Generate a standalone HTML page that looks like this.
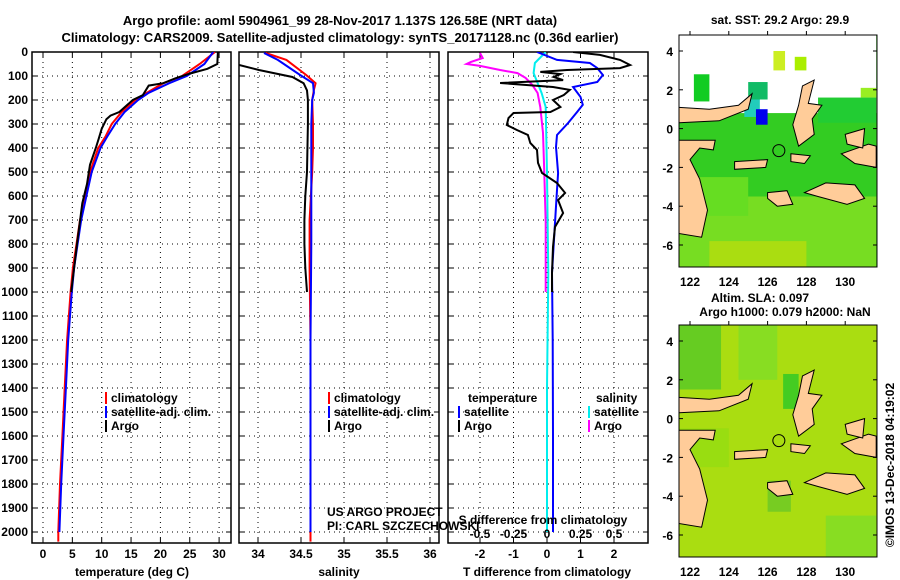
<!DOCTYPE html>
<html><head><meta charset="utf-8"><style>
body{margin:0;background:#fff;}
svg{display:block;font-family:"Liberation Sans",sans-serif;}
.b{font-weight:bold;font-size:12px;}
</style></head><body>
<svg id="s" width="900" height="580" viewBox="0 0 900 580" xmlns="http://www.w3.org/2000/svg">
<text x="340" y="25" text-anchor="middle" class="b" style="font-size:13px">Argo profile: aoml 5904961_99 28-Nov-2017 1.137S 126.58E (NRT data)</text>
<text x="340" y="42" text-anchor="middle" class="b" style="font-size:13px">Climatology: CARS2009. Satellite-adjusted climatology: synTS_20171128.nc (0.36d earlier)</text>
<g id="g"></g>
</svg>
<script>
// ---- data ----
const tClimD=[0,50,100,130,170,200,250,300,350,400,500,600,700,800,900,1000,1200,1400,1600,1800,2000,2040];
const tClimV=[29.3,26.7,23.7,20.5,17.7,15.7,13.4,11.7,10.7,9.4,8.0,7.2,6.3,5.7,5.1,4.7,4.1,3.7,3.3,2.9,2.6,2.6];
const tSatD=[0,50,100,130,170,200,250,300,350,400,500,600,700,800,900,1000,1200,1400,1600,1800,2000];
const tSatV=[29.0,27.5,24.5,21.5,18.0,16.2,13.9,12.3,11.0,9.8,8.3,7.4,6.5,5.9,5.3,4.9,4.3,3.9,3.5,3.1,2.8];
const tArgoD=[0,50,70,90,110,130,140,180,200,250,265,280,320,360,400,470,550,630,800,1000];
const tArgoV=[29.8,29.7,28,25,22.5,20.5,18,17,15.3,13,11.5,10.8,10,9.5,9,8,7.5,6.7,5.8,4.8];
const sClimD=[4,33,96,130,158,200,300,400,500,700,900,1200,1500,1800,2040];
const sClimV=[34.09,34.33,34.56,34.67,34.65,34.63,34.64,34.64,34.63,34.6,34.6,34.61,34.61,34.61,34.61];
const sSatD=[4,33,96,130,170,200,300,500,800,1200,1600,2000];
const sSatV=[34.07,34.23,34.49,34.64,34.65,34.63,34.62,34.62,34.62,34.61,34.61,34.61];
const sArgoD=[40,54,75,104,130,160,200,300,500,600,700,800,900,1000];
const sArgoV=[33.7,33.78,34.01,34.4,34.53,34.57,34.58,34.58,34.57,34.55,34.54,34.54,34.55,34.57];
const dTSatD=[0,33,46,67,96,125,146,187,220,250,296,346,396,504,575,712,921,1200,1600,2000];
const dTSatV=[-0.3,0.3,1.28,1.5,1.67,1.5,0.78,1.0,1.07,0.9,0.63,0.3,0.27,0.33,0.3,0.24,0.15,0.17,0.18,0.18];
const dSSatD=[0,46,88,129,171,229,504,921,1400,2000];
const dSSatV=[-0.01,-0.09,-0.1,-0.07,-0.04,-0.01,0,0.01,0,0];
const dSArgoD=[4,25,42,50,58,75,88,108,137,171,229,337,504,712,921,1000];
const dSArgoV=[-0.5,-0.48,-0.57,-0.6,-0.5,-0.35,-0.22,-0.16,-0.11,-0.07,-0.05,-0.03,-0.02,-0.01,-0.01,-0.01];
const dTArgoD=[0,12,33,54,67,75,83,92,104,117,129,146,158,179,200,229,250,254,275,304,325,346,379,408,462,504,546,587,617,671,729,812,921,1000];
const dTArgoV=[0.78,1.58,2.18,2.48,2.18,0.6,-0.2,0.4,0.2,0.48,-1.4,0.18,0.68,0.5,0.18,0.4,0.1,-1.0,-1.15,-1.2,-0.9,-0.57,-0.5,-0.3,-0.27,-0.15,0.3,0.54,0.33,0.48,0.24,0.18,0.15,0.15];
const depthTicks=[0,100,200,300,400,500,600,700,800,900,1000,1100,1200,1300,1400,1500,1600,1700,1800,1900,2000];
const tTicks=[0,5,10,15,20,25,30];
const sTicks=[34,34.5,35,35.5,36];
const dTTicks=[-2,-1,0,1,2];
const dSTicks=[-0.5,-0.25,0,0.25,0.5];
const latTicks=[4,2,0,-2,-4,-6];
const lonTicks=[122,124,126,128,130];
// ---- helpers ----
const NS='http://www.w3.org/2000/svg',G=document.getElementById('g');
function el(t,a,p){const e=document.createElementNS(NS,t);for(const k in a)e.setAttribute(k,a[k]);(p||G).appendChild(e);return e;}
function tx(x,y,s,anchor,cls,p){const e=el('text',{x:x,y:y,'text-anchor':anchor||'middle','class':cls||'b'},p);e.textContent=s;return e;}
const yD=d=>52+d*0.24, TOP=52, BOT=543;
const xT=v=>43+v*5.87, xS=v=>258+(v-34)*86, xDT=v=>547+v*33.5, xDS=v=>547+v*134;
function frame(x0,x1,name){
  const r=el('rect',{x:x0,y:TOP,width:x1-x0,height:BOT-TOP,fill:'none',stroke:'#000','stroke-width':1.5});
  
  
  depthTicks.forEach(d=>{el('line',{x1:x0,x2:x1,y1:yD(d),y2:yD(d),stroke:'#000','stroke-dasharray':'1,4'});
    el('line',{x1:x0,x2:x0+5,y1:yD(d),y2:yD(d),stroke:'#000'});el('line',{x1:x1-5,x2:x1,y1:yD(d),y2:yD(d),stroke:'#000'});});
}
function vgrid(xs,f){xs.forEach(v=>{const x=f(v);el('line',{x1:x,x2:x,y1:TOP,y2:BOT,stroke:'#000','stroke-dasharray':'1,4'});
  el('line',{x1:x,x2:x,y1:BOT-5,y2:BOT,stroke:'#000'});el('line',{x1:x,x2:x,y1:TOP,y2:TOP+5,stroke:'#000'});});}
function line(D,V,fx,col,name,clip){
  const pts=D.map((d,i)=>fx(V[i]).toFixed(1)+','+yD(d).toFixed(1)).join(' ');
  const p=el('polyline',{points:pts,fill:'none',stroke:col,'stroke-width':2,'clip-path':'url(#'+clip+')'});
  
  
}
const defs=el('defs',{});
[['c1',32,231],['c2',239,439],['c3',448,648]].forEach(c=>{const cp=el('clipPath',{id:c[0]},defs);el('rect',{x:c[1],y:TOP,width:c[2]-c[1],height:BOT-TOP},cp);});
// panel 1
frame(32,231,'temperature-panel');
depthTicks.forEach(d=>tx(28,yD(d)+4,String(d),'end'));
vgrid([0,5,10,15,20,25,30],xT);
tTicks.forEach(v=>tx(xT(v),558,String(v)));
tx(132,576,'temperature (deg C)');
line(tClimD,tClimV,xT,'#f00','temp-climatology-line','c1');
line(tSatD,tSatV,xT,'#00f','temp-satellite-line','c1');
line(tArgoD,tArgoV,xT,'#000','temp-argo-line','c1');
// panel 2
frame(239,439,'salinity-panel');
vgrid([34,34.5,35,35.5,36],xS);
sTicks.forEach(v=>tx(xS(v),558,String(v)));
tx(339,576,'salinity');
line(sClimD,sClimV,xS,'#f00','sal-climatology-line','c2');
line(sSatD,sSatV,xS,'#00f','sal-satellite-line','c2');
line(sArgoD,sArgoV,xS,'#000','sal-argo-line','c2');
// panel 3
frame(448,648,'difference-panel');
vgrid([-2,-1,0,1,2],xDT);
dTTicks.forEach(v=>tx(xDT(v),558,String(v)));
tx(547,576,'T difference from climatology');
line(dSArgoD,dSArgoV,xDS,'#f0f','sdiff-argo-line','c3');
line(dSSatD,dSSatV,xDS,'#0ee','sdiff-satellite-line','c3');
line(dTSatD,dTSatV,xDT,'#00f','tdiff-satellite-line','c3');
line(dTArgoD,dTArgoV,xDT,'#000','tdiff-argo-line','c3');
tx(543,524,'S difference from climatology');
dSTicks.forEach(v=>tx(xDS(v),538,String(v)));
// legends
function leg(x,y,col,label,name){const g=el('g',{});
  if(col)el('rect',{x:x,y:y-10,width:2,height:12,fill:col},g);tx(x+6,y,label,'start','b',g);}
[[105,'climatology','#f00'],[105,'satellite-adj. clim.','#00f'],[105,'Argo','#000']].forEach((l,i)=>leg(l[0],402+i*14,l[2],l[1],'temp-legend-'+i));
[[328,'climatology','#f00'],[328,'satellite-adj. clim.','#00f'],[328,'Argo','#000']].forEach((l,i)=>leg(l[0],402+i*14,l[2],l[1],'sal-legend-'+i));
leg(462,402,null,'temperature','diff-legend-temp-header');
leg(458,416,'#00f','satellite','diff-legend-tsat');
leg(458,430,'#000','Argo','diff-legend-targo');
leg(590,402,null,'salinity','diff-legend-sal-header');
leg(588,416,'#0ee','satellite','diff-legend-ssat');
leg(588,430,'#f0f','Argo','diff-legend-sargo');
const t1=tx(327,516,'US ARGO PROJECT','start','');t1.setAttribute('style','font-size:12px');
const t2=tx(327,530,'PI: CARL SZCZECHOWSKI','start','');t2.setAttribute('style','font-size:12px');
// maps
const mx=l=>690+(l-122)*19.4;
function map(y0,lat4,bg,patches,name){
  const my=l=>lat4+(4-l)*19.4;
  const g=el('g',{});
  const cid='m'+y0;const cp=el('clipPath',{id:cid},defs);el('rect',{x:679,y:y0,width:198,height:232},cp);
  const gg=el('g',{'clip-path':'url(#'+cid+')'},g);
  el('rect',{x:679,y:y0,width:198,height:232,fill:bg},gg);
  patches.forEach(p=>el('rect',{x:mx(p[0]),y:my(p[3]),width:mx(p[1])-mx(p[0]),height:my(p[2])-my(p[3]),fill:p[4]},gg));
  const lands=[
   [[121.4,1.1],[123,1.0],[124.5,1.2],[125.2,1.8],[125,1.0],[123.5,0.4],[121.4,0.3]],
   [[121.4,-0.6],[123.3,-0.6],[123.2,-1.1],[122.5,-1.0],[122,-1.6],[122.5,-2.6],[122.9,-4.2],[122.6,-5.6],[121.4,-5.4]],
   [[127.8,2.2],[128.4,2.5],[128.1,1.3],[128.8,1.2],[128.3,0.5],[128.4,-0.3],[127.6,-0.9],[127.3,0.2],[127.6,1.2]],
   [[127.9,-3.3],[129,-2.8],[130.5,-2.9],[131,-3.6],[130.1,-3.9],[128.6,-3.5]],
   [[126,-3.3],[127,-3.2],[127.3,-3.9],[126.5,-4.0],[126,-3.6]],
   [[124.3,-1.7],[126,-1.6],[125.9,-2.0],[124.3,-2.1]],
   [[127.2,-1.3],[128.2,-1.4],[127.9,-1.8],[127.2,-1.7]],
   [[129.8,-1.3],[131.2,-0.8],[131.6,-0.9],[131.6,-2.0],[130.5,-1.8]],
   [[130,-0.3],[131,0],[130.9,-1.0],[130.1,-0.8]]];
  lands.forEach(L=>el('polygon',{points:L.map(p=>mx(p[0]).toFixed(1)+','+my(p[1]).toFixed(1)).join(' '),fill:'#fc9',stroke:'#000','stroke-width':1},gg));
  el('circle',{cx:mx(126.58),cy:my(-1.137),r:6,fill:'none',stroke:'#000'},gg);
  el('rect',{x:679,y:y0,width:198,height:232,fill:'none',stroke:'#000'},g);
  latTicks.forEach(l=>{tx(673,my(l)+5,String(l),'end','b',g);el('line',{x1:679,x2:683,y1:my(l),y2:my(l),stroke:'#000'},g);el('line',{x1:873,x2:877,y1:my(l),y2:my(l),stroke:'#000'},g);});
  lonTicks.forEach(l=>{tx(mx(l),y0+251,String(l),'middle','b',g);el('line',{x1:mx(l),x2:mx(l),y1:y0,y2:y0-4,stroke:'#000'},g);});
}
map(35,51,'#33cc22',[[121.4,131.6,0.8,4.8,'#fff'],[122.2,123,1.4,2.8,'#11cc22'],[125,126,1.5,2.4,'#11bb66'],[126.3,126.9,3,4,'#ccee22'],[127.4,128,3,3.7,'#aaee00'],[130.8,131.6,1.6,2.1,'#99ee22'],[124.8,125.6,0.6,1.5,'#22ccbb'],[125.4,126,0.2,1.0,'#0000ee'],[128.6,131.6,0.3,1.6,'#22cc33'],[121.4,131.6,-7.2,-3.5,'#77dd22'],[122,125,-4.5,-2.5,'#66dd22'],[123,128,-7.2,-5.8,'#aadd11']],'sst-map');
map(325,341,'#aadd11',[[121.4,123.6,1.5,4.8,'#66cc22'],[124.5,126.5,2,4.8,'#88dd22'],[126.8,127.6,0.5,2.3,'#44cc22'],[121.4,124,-2.5,-0.5,'#99dd11'],[126,127.2,-4.8,-3.2,'#77cc22'],[129,131.6,-7.2,-5,'#88dd22']],'sla-map');
const h1=tx(780,24,'sat. SST: 29.2 Argo: 29.9');
const h2=tx(760,302,'Altim. SLA: 0.097');
const h3=tx(785,316,'Argo h1000: 0.079 h2000: NaN');
const c=tx(0,0,'©IMOS 13-Dec-2018 04:19:02','middle','');c.setAttribute('transform','translate(894,465) rotate(-90)');c.setAttribute('style','font-size:12px');

</script>
</body></html>
